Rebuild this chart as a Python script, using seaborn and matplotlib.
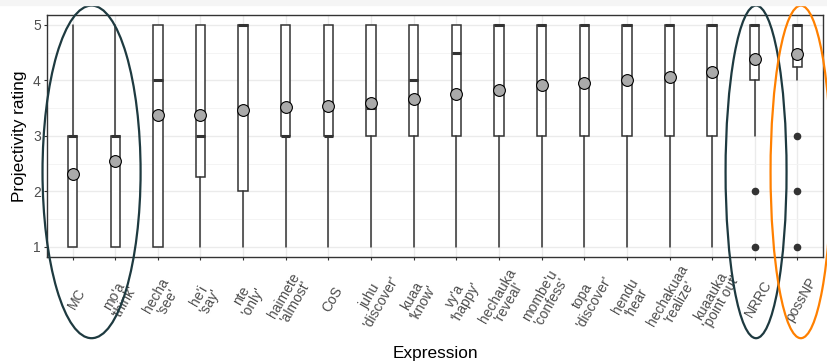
import numpy as np
import pandas as pd
import seaborn as sns
import matplotlib
matplotlib.use("Agg")
from matplotlib import pyplot as plt
from matplotlib.patches import Ellipse, Rectangle
from matplotlib.transforms import ScaledTranslation

# expressions in plot order
expressions = ["MC", "mo'a\n'think'", "hecha\n'see'", "he'i\n'say'", "nte\n'only'",
               "haimete\n'almost'", "CoS", "juhu\n'discover'", "kuaa\n'know'",
               "vy'a\n'happy'", "hechauka\n'reveal'", "mombe'u\n'confess'",
               "topa\n'discover'", "hendu\n'hear", "hechakuaa\n'realize'",
               "kuaauka\n'point out'", "NRRC", "possNP"]

# box statistics
q1 = [1, 1, 1, 2.25, 2, 3, 3, 3, 3, 3, 3, 3, 3, 3, 3, 3, 4, 4.25]
medians = [3, 3, 4, 3, 5, 3, 3, 3.5, 4, 4.5, 5, 5, 5, 5, 5, 5, 5, 5]
q3 = [3, 3, 5, 5, 5, 5, 5, 5, 5, 5, 5, 5, 5, 5, 5, 5, 5, 5]
whisk_lo = [1, 1, 1, 1, 1, 1, 1, 1, 1, 1, 1, 1, 1, 1, 1, 1, 3, 4]
whisk_hi = [5] * 18
outliers = {"NRRC": [2, 1], "possNP": [3, 2, 1]}

# mean ratings
mean_rating = [2.31, 2.55, 3.38, 3.38, 3.47, 3.52, 3.54, 3.59, 3.66, 3.75,
               3.82, 3.92, 3.95, 4.00, 4.06, 4.16, 4.38, 4.47]

sns.set_theme(style="whitegrid")
plt.rcParams["font.family"] = ["Liberation Sans", "DejaVu Sans"]

fig = plt.figure(figsize=(8.28, 3.63), dpi=100)
fig.patches.append(Rectangle((0, 1 - 5 / 363), 1, 5 / 363, transform=fig.transFigure,
                             color="#f5f5f5", zorder=0))
ax = fig.add_axes([47 / 828, 1 - 256.7 / 363, 776 / 828, 241.7 / 363])
ax.set_facecolor("white")

pos = np.arange(len(expressions))
stats = []
for i, lab in enumerate(expressions):
    stats.append({"label": lab, "q1": q1[i], "med": medians[i], "q3": q3[i],
                  "whislo": whisk_lo[i], "whishi": whisk_hi[i],
                  "fliers": outliers.get(lab, [])})

ax.bxp(stats, positions=pos, widths=0.22, patch_artist=True, showcaps=False,
       boxprops=dict(facecolor="white", edgecolor="#333333", linewidth=1.1),
       medianprops=dict(color="#333333", linewidth=2.2, solid_capstyle="butt"),
       whiskerprops=dict(color="#333333", linewidth=1.1),
       flierprops=dict(marker="o", markerfacecolor="#333333", markeredgecolor="#333333",
                       markersize=4.5, linestyle="none"),
       manage_ticks=False, zorder=3)

means_df = pd.DataFrame({"pos": pos, "mean": mean_rating})
sns.scatterplot(data=means_df, x="pos", y="mean", ax=ax, s=72, color="#aaaaaa",
                edgecolor="black", linewidth=0.8, zorder=5, legend=False)

ax.set_xlim(-0.6, len(expressions) - 0.4)
ax.set_ylim(0.82, 5.18)
ax.set_yticks([1, 2, 3, 4, 5])
ax.set_yticks([1.5, 2.5, 3.5, 4.5], minor=True)
ax.set_xticks(pos)
ax.set_xticklabels(expressions, rotation=60, ha="center", va="center",
                   rotation_mode="anchor", multialignment="center", linespacing=0.9)
ax.grid(which="major", color="#ebebeb", linewidth=1.0)
ax.grid(which="minor", axis="y", color="#f3f3f3", linewidth=0.6)
ax.set_axisbelow(True)
for s in ax.spines.values():
    s.set_color("#333333")
    s.set_linewidth(1.0)
ax.tick_params(axis="both", which="major", length=2.5, width=0.8, color="#333333",
               labelsize=10, labelcolor="#4d4d4d", bottom=True, left=True)
ax.tick_params(axis="y", pad=2)
ax.tick_params(axis="x", pad=28)
ax.tick_params(which="minor", length=0)
shift = ScaledTranslation(4 / 100, 0, fig.dpi_scale_trans)
for t in ax.get_xticklabels():
    t.set_transform(t.get_transform() + shift)

ax.set_xlabel("Expression", fontsize=12.4, color="black", labelpad=8)
ax.set_ylabel("Projectivity rating", fontsize=12.4, color="black", labelpad=4)

# highlighting ellipses
dark = "#1e3a40"
ax.add_patch(Ellipse((0.445, 2.35), 2.30, 6.0, fill=False, edgecolor=dark,
                     linewidth=1.6, clip_on=False, zorder=6))
ax.add_patch(Ellipse((16.03, 2.35), 1.43, 6.0, fill=False, edgecolor=dark,
                     linewidth=1.6, clip_on=False, zorder=6))
ax.add_patch(Ellipse((17.08, 2.35), 1.42, 6.0, fill=False, edgecolor="#ff8000",
                     linewidth=1.6, clip_on=False, zorder=6))

fig.savefig("out.png", dpi=100)
